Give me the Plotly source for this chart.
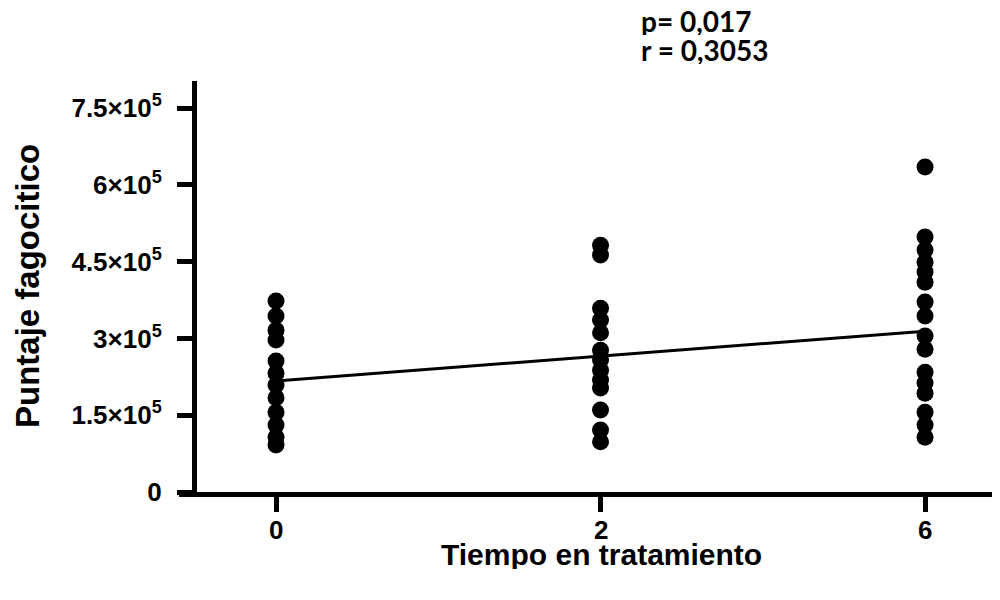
import plotly.graph_objects as go

# ---- data ----
time_labels = ["0", "2", "6"]
score_t0 = [3.73e5, 3.44e5, 3.16e5, 2.97e5, 2.56e5, 2.32e5, 2.09e5, 1.84e5,
            1.56e5, 1.31e5, 1.07e5, 0.92e5]
score_t2 = [4.82e5, 4.63e5, 3.59e5, 3.36e5, 3.11e5, 2.77e5, 2.58e5, 2.38e5,
            2.19e5, 2.03e5, 1.60e5, 1.21e5, 0.98e5]
score_t6 = [6.35e5, 4.98e5, 4.73e5, 4.49e5, 4.30e5, 4.10e5, 3.71e5, 3.44e5,
            3.05e5, 2.79e5, 2.34e5, 2.13e5, 1.93e5, 1.56e5, 1.31e5, 1.07e5]
fit_x = ["0", "6"]
fit_y = [2.17e5, 3.14e5]
ytick_vals = [0, 1.5e5, 3e5, 4.5e5, 6e5, 7.5e5]
ytick_text = ["0", "1.5×10<sup>5</sup>", "3×10<sup>5</sup>", "4.5×10<sup>5</sup>",
              "6×10<sup>5</sup>", "7.5×10<sup>5</sup>"]
stat_lines = ["p= 0,017", "r = 0,3053"]

FONT = "Arial, Liberation Sans, sans-serif"

# page body has an 8px margin, so the figure is drawn 8px in from the corner
OFF = 8
W, H = 1000 - OFF, 600 - OFF
# plot-area geometry (pixels in the 1000x600 window)
X0, X1, Y0, Y1 = 179, 1000, 81, 492
L, R, T, B = X0 - OFF, 0, Y0 - OFF, H - (Y1 - OFF)
pw, ph = X1 - X0, Y1 - Y0


def px(x):
    return (x - X0) / pw


def py(y):
    return (Y1 - y) / ph


fig = go.Figure()
fig.add_trace(go.Scatter(x=fit_x, y=fit_y, mode="lines",
                         line=dict(color="black", width=3), hoverinfo="skip"))
for lab, vals in zip(time_labels, [score_t0, score_t2, score_t6]):
    fig.add_trace(go.Scatter(x=[lab] * len(vals), y=vals, mode="markers",
                             marker=dict(color="black", size=17, line=dict(width=0))))

fig.update_layout(
    width=W, height=H, showlegend=False,
    plot_bgcolor="white", paper_bgcolor="white",
    margin=dict(l=L, r=R, t=T, b=B, autoexpand=False),
    font=dict(family=FONT, color="black"),
    xaxis=dict(type="category", categoryorder="array", categoryarray=time_labels,
               range=[-0.299, 2.231], domain=[0, 1],
               showline=True, linecolor="black", linewidth=5,
               ticks="outside", ticklen=15, tickwidth=5, tickcolor="black",
               showticklabels=False,
               showgrid=False, zeroline=False),
    yaxis=dict(range=[0, 8.03e5], anchor="free", position=px(194),
               tickvals=ytick_vals, ticktext=ytick_text,
               showline=True, linecolor="black", linewidth=5,
               ticks="outside", ticklen=15, tickwidth=5, tickcolor="black",
               tickfont=dict(size=26, family=FONT, weight="bold"),
               ticklabelstandoff=10,
               showgrid=False, zeroline=False),
)

# x tick labels, placed just under the ticks (category index positions)
for i, lab in enumerate(time_labels):
    fig.add_annotation(x=i, y=py(530), xref="x", yref="paper",
                       text=lab, showarrow=False, height=22,
                       font=dict(size=26, family=FONT, weight="bold"),
                       xanchor="center", yanchor="middle")

fig.add_annotation(x=px(27), y=py(286), xref="paper", yref="paper",
                   text="Puntaje fagocitico", textangle=-90, showarrow=False,
                   font=dict(size=33, family=FONT, weight="bold"),
                   xanchor="center", yanchor="middle")
fig.add_annotation(x=px(601), y=py(554), xref="paper", yref="paper",
                   text="Tiempo en tratamiento", showarrow=False, height=30,
                   font=dict(size=30, family=FONT, weight="bold"),
                   xanchor="center", yanchor="middle")
for txt, yc in zip(stat_lines, [21, 50]):
    fig.add_annotation(x=px(639), y=py(yc), xref="paper", yref="paper",
                       text=txt, showarrow=False, height=28,
                       font=dict(size=28, family="Lato, Open Sans, sans-serif", weight="bold"),
                       xanchor="left", yanchor="middle")

fig.write_html("out.html")
